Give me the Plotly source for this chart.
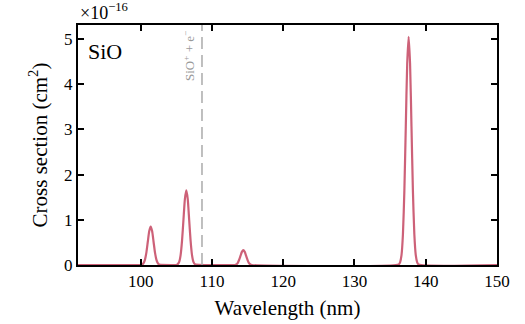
import plotly.graph_objects as go

# Cross-section profile of SiO (units of 1e-16 cm^2) vs wavelength (nm)
wavelength = [
    91.2, 99.8,
    99.8, 100.0, 100.2, 100.4, 100.6, 100.8, 101.0, 101.2, 101.4, 101.6, 101.8, 102.0, 102.2, 102.4, 102.6,
    104.8, 105.0, 105.2, 105.4, 105.6, 105.8, 106.0, 106.2, 106.4, 106.6, 106.8, 107.0, 107.2, 107.4, 107.6,
    112.8, 113.0, 113.2, 113.4, 113.6, 113.8, 114.0, 114.2, 114.4, 114.6, 114.8, 115.0, 115.2, 115.4, 115.6,
    136.2, 136.4, 136.6, 136.8, 137.0, 137.2, 137.4, 137.6, 137.8, 138.0, 138.2, 138.4, 138.6, 138.8, 139.0,
    150.0,
]
cross_section = [
    0.0, 0.0,
    0.00, 0.00, 0.01, 0.04, 0.12, 0.28, 0.52, 0.75, 0.85, 0.75, 0.52, 0.28, 0.12, 0.04, 0.01,
    0.00, 0.00, 0.02, 0.07, 0.22, 0.54, 1.00, 1.46, 1.65, 1.46, 1.00, 0.54, 0.22, 0.07, 0.02,
    0.00, 0.00, 0.00, 0.01, 0.04, 0.11, 0.20, 0.29, 0.33, 0.29, 0.20, 0.11, 0.04, 0.01, 0.00,
    0.01, 0.06, 0.22, 0.68, 1.64, 3.06, 4.46, 5.05, 4.46, 3.06, 1.64, 0.68, 0.22, 0.06, 0.01,
    0.0,
]
ionization_nm = 108.6
x_ticks = [100, 110, 120, 130, 140, 150]
y_ticks = [0, 1, 2, 3, 4, 5]

serif = "Liberation Serif, DejaVu Serif, serif"

fig = go.Figure()
fig.add_trace(go.Scatter(
    x=wavelength, y=cross_section, mode="lines",
    line=dict(color="rgba(200,80,105,0.9)", width=2.2, shape="spline", smoothing=0.6),
    hoverinfo="skip", showlegend=False,
))

fig.add_shape(type="line", xref="x", yref="paper", x0=ionization_nm, x1=ionization_nm,
              y0=0, y1=1, line=dict(color="#aaaaaa", width=1.5, dash="12px,6px"))
fig.add_annotation(x=ionization_nm, xref="x", y=1, yref="paper", xanchor="right", yanchor="top",
                   xshift=-3, yshift=-4, text="SiO<sup>+</sup> + e<sup>−</sup>", textangle=-90,
                   showarrow=False, font=dict(family=serif, size=13, color="#999999"))
fig.add_annotation(x=0.02, xref="paper", y=0.95, yref="paper", xanchor="left", yanchor="top",
                   text="SiO", showarrow=False, font=dict(family=serif, size=22, color="black"))
fig.add_annotation(x=0, xref="paper", y=1, yref="paper", xanchor="left", yanchor="bottom",
                   yshift=0, text="×10<sup>−16</sup>", showarrow=False,
                   font=dict(family=serif, size=18, color="black"))

axis_common = dict(
    showline=True, linecolor="black", linewidth=2, mirror="allticks",
    ticks="inside", ticklen=6, tickwidth=1.5, tickcolor="black",
    showgrid=False, zeroline=False, automargin=False,
    tickfont=dict(family=serif, size=17, color="black"),
)
fig.update_xaxes(range=[91.2, 150], tickvals=x_ticks,
                 title=dict(text="Wavelength (nm)", font=dict(family=serif, size=21, color="black"),
                            standoff=10),
                 **axis_common)
fig.update_yaxes(range=[0, 5.31], tickvals=y_ticks,
                 title=dict(text="Cross section (cm<sup>2</sup>)",
                            font=dict(family=serif, size=21, color="black"), standoff=11),
                 **axis_common)

fig.update_layout(
    width=525, height=324,
    margin=dict(l=78, r=28, t=25, b=59),
    paper_bgcolor="white", plot_bgcolor="white",
)

fig.write_html("out.html")
